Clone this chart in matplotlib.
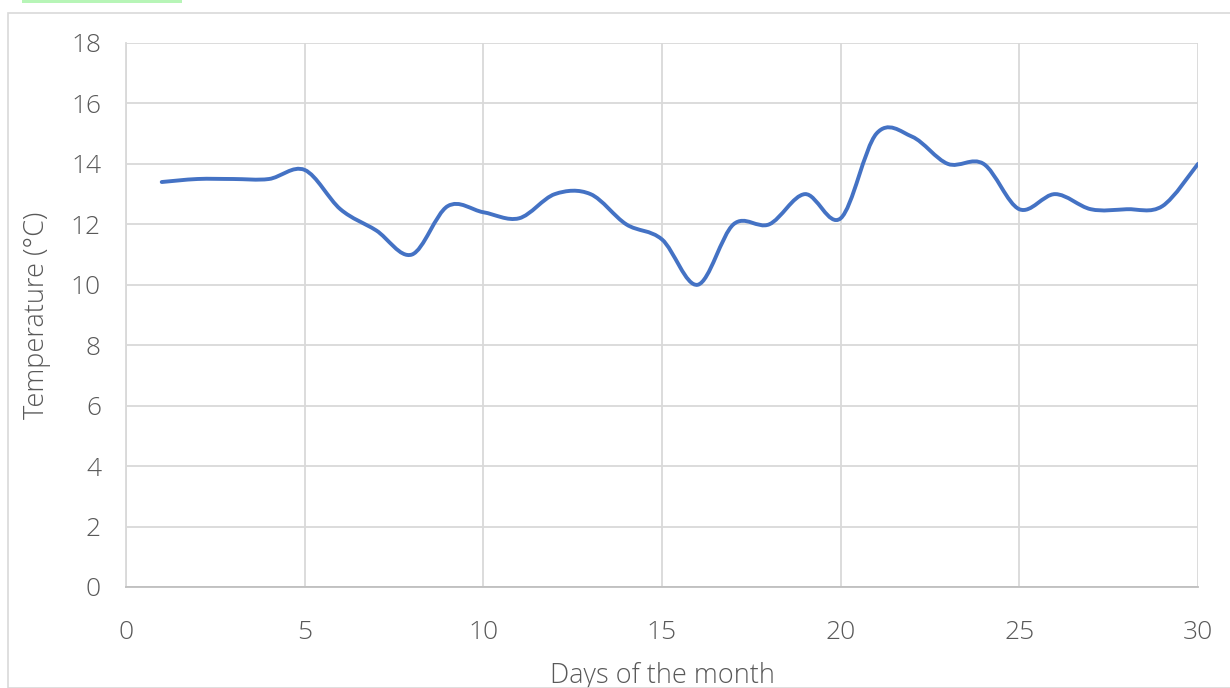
import numpy as np
import matplotlib.pyplot as plt
from matplotlib.path import Path
from matplotlib.patches import PathPatch, Rectangle

days = list(range(1, 31))
temps = [13.4, 13.5, 13.5, 13.5, 13.8, 12.5, 11.8, 11.0, 12.6, 12.4,
         12.2, 13.0, 13.0, 12.0, 11.5, 10.0, 12.0, 12.0, 13.0, 12.2,
         15.0, 14.9, 14.0, 14.0, 12.5, 13.0, 12.5, 12.5, 12.6, 14.0]
xticks = [0, 5, 10, 15, 20, 25, 30]
yticks = [0, 2, 4, 6, 8, 10, 12, 14, 16, 18]

plt.rcParams['font.family'] = ['Open Sans', 'DejaVu Sans']

fig = plt.figure(figsize=(12.3, 6.88), dpi=100)
W, H = 1230, 688

# chart frame like excel
fig.patches.append(Rectangle((8 / W, 0), 1.2, 1 - 13 / H, transform=fig.transFigure,
                             fill=False, edgecolor='#d9d9d9', linewidth=1.2))
fig.patches.append(Rectangle((22 / W, 1 - 3 / H), 160 / W, 3 / H, transform=fig.transFigure,
                             facecolor='#b7f5b7', edgecolor='none'))

ax = fig.add_axes([126 / W, 1 - 587 / H, (1198 - 126) / W, (587 - 43) / H])

# smooth line (excel style bezier)
x = np.array(days, dtype=float)
y = np.array(temps, dtype=float)
verts = [(x[0], y[0])]
codes = [Path.MOVETO]
n = len(x)
for i in range(n - 1):
    p0 = np.array([x[max(i - 1, 0)], y[max(i - 1, 0)]])
    p1 = np.array([x[i], y[i]])
    p2 = np.array([x[i + 1], y[i + 1]])
    p3 = np.array([x[min(i + 2, n - 1)], y[min(i + 2, n - 1)]])
    c1 = p1 + (p2 - p0) / 6
    c2 = p2 - (p3 - p1) / 6
    verts += [tuple(c1), tuple(c2), tuple(p2)]
    codes += [Path.CURVE4] * 3
ax.add_patch(PathPatch(Path(verts, codes), facecolor='none', edgecolor='#4472C4',
                       linewidth=2.8, capstyle='round', joinstyle='round', zorder=3))

ax.set_xlim(0, 30)
ax.set_ylim(0, 18)
ax.set_xticks(xticks)
ax.set_yticks(yticks)
ax.grid(True, color='#d9d9d9', linewidth=1.3)
ax.set_axisbelow(True)
for s in ['top', 'right']:
    ax.spines[s].set_visible(False)
ax.spines['left'].set_color('#d9d9d9')
ax.spines['bottom'].set_color('#bfbfbf')
ax.spines['left'].set_linewidth(1.3)
ax.spines['bottom'].set_linewidth(1.3)
ax.tick_params(length=0, labelsize=19, colors='#595959')
for lab in ax.get_xticklabels() + ax.get_yticklabels():
    lab.set_fontweight('light')
ax.tick_params(axis='x', pad=24)
ax.tick_params(axis='y', pad=18)
ax.set_xlabel('Days of the month', fontsize=19.5, color='#595959', labelpad=12,
              fontweight='light')
ax.set_ylabel('Temperature (°C)', fontsize=19.5, color='#595959', labelpad=14,
              fontweight='light')

fig.savefig('out.png', dpi=100)
